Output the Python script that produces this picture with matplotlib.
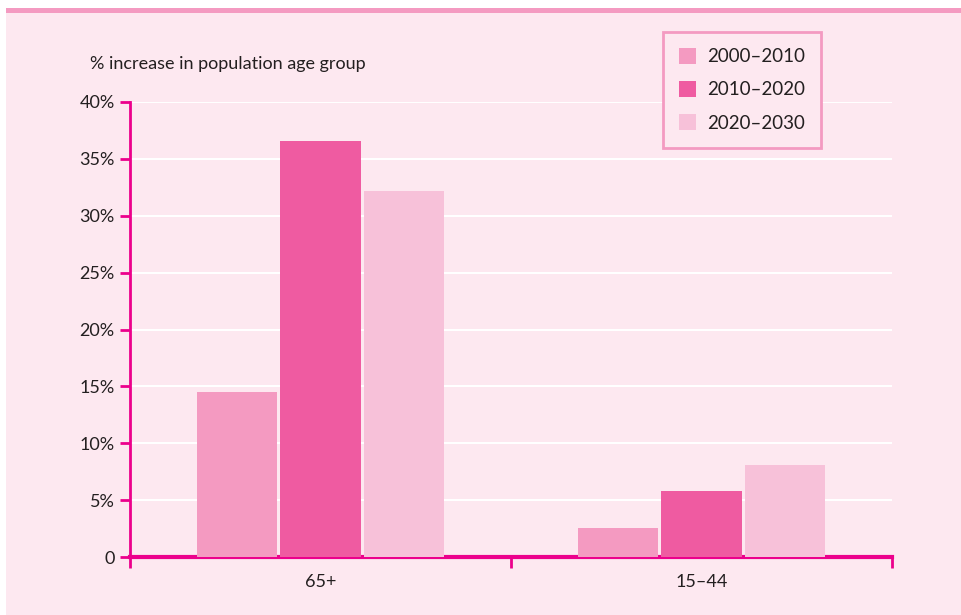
import matplotlib.pyplot as plt
from matplotlib.patches import Rectangle

# Datos
grupos = ['65+', '15–44']
periodos = ['2000–2010', '2010–2020', '2020–2030']
valores = {
    '2000–2010': [14.5, 2.55],
    '2010–2020': [36.6, 5.8],
    '2020–2030': [32.2, 8.1],
}
colores = ['#F49AC1', '#EF5BA1', '#F7C1D9']
yticks = [0, 5, 10, 15, 20, 25, 30, 35, 40]
yticklabels = ['0', '5%', '10%', '15%', '20%', '25%', '30%', '35%', '40%']

fondo = '#FDE8F0'
magenta = '#EC008C'
texto = '#231F20'

plt.rcParams['font.family'] = ['Lato', 'DejaVu Sans']

fig = plt.figure(figsize=(9.61, 6.15), dpi=100)
W, H = 961, 615
# fondo rosa y franja superior
fig.patches.append(Rectangle((6 / W, 0), 1, (H - 13) / H, transform=fig.transFigure,
                             facecolor=fondo, edgecolor='none', zorder=-2))
fig.patches.append(Rectangle((6 / W, (H - 13) / H), 1, 5 / H, transform=fig.transFigure,
                             facecolor='#F49AC1', edgecolor='none', zorder=-2))

ax = fig.add_axes([130 / W, (H - 557) / H, (892 - 130) / W, (557 - 102) / H])
ax.set_zorder(1)
ax.patch.set_alpha(0)

ancho = 0.21
paso = 0.218
for i, p in enumerate(periodos):
    xs = [j + 0.5 + (i - 1) * paso for j in range(len(grupos))]
    ax.bar(xs, valores[p], width=ancho, color=colores[i], label=p, zorder=3)

ax.set_xlim(0, 2)
ax.set_ylim(0, 40)
ax.set_yticks(yticks)
ax.set_yticklabels(yticklabels, fontsize=13, color=texto)
ax.yaxis.grid(True, color='white', linewidth=1.5, zorder=1)
ax.set_axisbelow(True)

ax.set_xticks([0, 1, 2])
ax.set_xticklabels([])
ax.set_xticks([0.5, 1.5], minor=True)
ax.set_xticklabels(grupos, minor=True, fontsize=13, color=texto)
ax.tick_params(axis='x', which='minor', length=0, pad=12)
ax.tick_params(axis='x', which='major', length=8, width=2, color=magenta, direction='out')
ax.tick_params(axis='y', length=7, width=2, color=magenta, pad=4)

for s in ['top', 'right']:
    ax.spines[s].set_visible(False)
ax.spines['left'].set_color(magenta)
ax.spines['left'].set_linewidth(2)
ax.spines['bottom'].set_color(magenta)
ax.spines['bottom'].set_linewidth(3)

fig.text(90 / W, (H - 64) / H, '% increase in population age group', fontsize=13,
         color=texto, va='center', ha='left')

leg = ax.legend(loc='upper left', bbox_to_anchor=(663 / W, (H - 32) / H),
                bbox_transform=fig.transFigure, fontsize=13.5, frameon=True,
                fancybox=False, handlelength=0.9, handleheight=0.9,
                handletextpad=0.6, borderpad=0.85, labelspacing=0.85,
                borderaxespad=0)
leg.get_frame().set_edgecolor('#F49AC1')
leg.get_frame().set_linewidth(2)
leg.get_frame().set_facecolor(fondo)
leg.get_frame().set_alpha(1)
for t in leg.get_texts():
    t.set_color(texto)

fig.savefig('out.png', dpi=100)
